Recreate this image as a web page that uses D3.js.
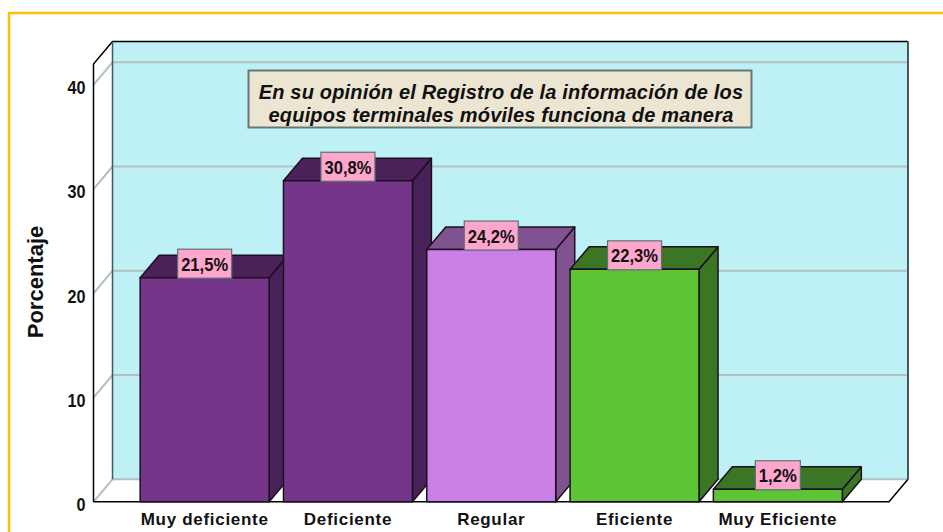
<!DOCTYPE html>
<html>
<head>
<meta charset="utf-8">
<script src="https://cdn.jsdelivr.net/npm/d3@7"></script>
<style>
  html, body { margin: 0; padding: 0; background: #fff; }
  svg { display: block; }
  text { font-family: "Liberation Sans", Arial, sans-serif; fill: #111; }
</style>
</head>
<body>
<svg id="chart" width="943" height="532"></svg>
<script>
const categories = ["Muy deficiente", "Deficiente", "Regular", "Eficiente", "Muy Eficiente"];
const percentages = [21.5, 30.8, 24.2, 22.3, 1.2];
const valueLabels = ["21,5%", "30,8%", "24,2%", "22,3%", "1,2%"];
const yTicks = [0, 10, 20, 30, 40];
const titleLines = ["En su opinión el Registro de la información de los", "equipos terminales móviles funciona de manera"];
const frontColors = ["#75368a", "#75368a", "#c97fe5", "#5dc435", "#5dc435"];
const topColors = ["#4a2259", "#4a2259", "#80528f", "#3a7623", "#3a7623"];
const sideColors = ["#472157", "#472157", "#80528f", "#3a7623", "#3a7623"];

const svg = d3.select("#chart");
const dx = 19, dy = -22.5;   // depth of the fake 3d
const left = 93.5, right = 889;
const yMax = 42;

const x = d3.scaleBand().domain(categories).range([133, 849.5]).paddingInner(0.1).paddingOuter(0.05);
const y = d3.scaleLinear().domain([0, yMax]).range([501.8, 64]);

// yellow frame round the picture, runs off the right and bottom edge
svg.append("path")
  .attr("d", "M9,532V13H943")
  .attr("fill", "none")
  .attr("stroke", "#ffc000")
  .attr("stroke-width", 2.5);

function poly(pts) { return pts.map(function(p) { return p.join(","); }).join(" "); }

// back wall
svg.append("rect")
  .attr("x", left + dx).attr("y", y(yMax) + dy)
  .attr("width", right - left).attr("height", y(0) - y(yMax))
  .attr("fill", "#bdf1f5");

// gridlines, back wall and left wall
const grid = svg.append("g").attr("stroke", "#b3bfc1").attr("stroke-width", 2).attr("fill", "none");
yTicks.forEach(function(t) {
  grid.append("polyline").attr("points", poly([
    [left, y(t)], [left + dx, y(t) + dy], [right + dx, y(t) + dy]
  ]));
});

// frame of the box
const frame = svg.append("g").attr("fill", "none").attr("stroke", "#000").attr("stroke-width", 1.5);
frame.append("polyline").attr("points", poly([
  [left, y(0)], [left, y(yMax)], [left + dx, y(yMax) + dy], [right + dx, y(yMax) + dy]
]));
frame.append("line")
  .attr("x1", left + dx).attr("x2", left + dx)
  .attr("y1", y(yMax) + dy).attr("y2", y(0) + dy)
  .attr("stroke", "#3f5a5f");
frame.append("line")
  .attr("x1", right + dx).attr("x2", right + dx)
  .attr("y1", y(yMax) + dy).attr("y2", y(0) + dy)
  .attr("stroke", "#4a5557").attr("stroke-width", 2);
frame.append("polyline").attr("points", poly([
  [left, y(0)], [right, y(0)], [right + dx, y(0) + dy]
]));

// bars
const bars = svg.append("g").selectAll("g").data(categories).join("g");
const edge = function(sel) { return sel.attr("stroke", "#1a1020").attr("stroke-width", 1.5).attr("stroke-linejoin", "round"); };

bars.append("polygon")
  .attr("points", function(d, i) {
    const x1 = x(d) + x.bandwidth(), t = y(percentages[i]);
    return poly([[x1, y(0)], [x1 + dx, y(0) + dy], [x1 + dx, t + dy], [x1, t]]);
  })
  .attr("fill", function(d, i) { return sideColors[i]; })
  .call(edge);

bars.append("polygon")
  .attr("points", function(d, i) {
    const x0 = x(d), x1 = x0 + x.bandwidth(), t = y(percentages[i]);
    return poly([[x0, t], [x0 + dx, t + dy], [x1 + dx, t + dy], [x1, t]]);
  })
  .attr("fill", function(d, i) { return topColors[i]; })
  .call(edge);

bars.append("rect")
  .attr("x", function(d) { return x(d); })
  .attr("y", function(d, i) { return y(percentages[i]); })
  .attr("width", x.bandwidth())
  .attr("height", function(d, i) { return y(0) - y(percentages[i]); })
  .attr("fill", function(d, i) { return frontColors[i]; })
  .call(edge);

// value labels
const labels = bars.append("g");
labels.append("rect")
  .attr("x", function(d, i) { return x(d) + x.bandwidth() / 2 - (i === 4 ? 22.5 : 27); })
  .attr("y", function(d, i) { return y(percentages[i]) - 28.5; })
  .attr("width", function(d, i) { return i === 4 ? 45 : 54; })
  .attr("height", 29)
  .attr("fill", "#ffa6cc")
  .attr("stroke", "#5f7072")
  .attr("stroke-width", 1.2);
// no narrow face installed, so squeeze the glyphs to the measured width
labels.append("text")
  .attr("x", function(d) { return x(d) + x.bandwidth() / 2; })
  .attr("y", function(d, i) { return y(percentages[i]) - 7; })
  .attr("text-anchor", "middle")
  .attr("font-size", 19)
  .attr("font-weight", "bold")
  .attr("textLength", function(d, i) { return i === 4 ? 38 : 47; })
  .attr("lengthAdjust", "spacingAndGlyphs")
  .text(function(d, i) { return valueLabels[i]; });

// axes
const yAxis = svg.append("g")
  .attr("transform", "translate(" + (left - 1) + ",0)")
  .call(d3.axisLeft(y).tickValues(yTicks).tickSize(0).tickPadding(7));
yAxis.select(".domain").remove();
yAxis.selectAll("text")
  .attr("y", 3)
  .attr("font-size", 18)
  .attr("font-weight", "bold")
  .attr("fill", "#111")
  .attr("font-family", "\"Liberation Sans\", Arial, sans-serif")
  .attr("textLength", function(d) { return String(d).length * 9; })
  .attr("lengthAdjust", "spacingAndGlyphs");

const xAxis = svg.append("g")
  .attr("transform", "translate(0," + y(0) + ")")
  .call(d3.axisBottom(x).tickSize(0).tickPadding(11));
xAxis.select(".domain").remove();
xAxis.selectAll("text")
  .attr("font-size", 17)
  .attr("font-weight", "bold")
  .attr("letter-spacing", 0.7)
  .attr("fill", "#111")
  .attr("font-family", "\"Liberation Sans\", Arial, sans-serif");

svg.append("text")
  .attr("transform", "translate(43,282) rotate(-90)")
  .attr("text-anchor", "middle")
  .attr("font-size", 22)
  .attr("font-weight", "bold")
  .text("Porcentaje");

// title box
const titleBox = svg.append("g");
titleBox.append("rect")
  .attr("x", 248.5).attr("y", 70.5)
  .attr("width", 503).attr("height", 57)
  .attr("fill", "#ece5d2")
  .attr("stroke", "#64787a")
  .attr("stroke-width", 2);
titleBox.selectAll("text").data(titleLines).join("text")
  .attr("x", 501)
  .attr("y", function(d, i) { return 99 + i * 23; })
  .attr("text-anchor", "middle")
  .attr("font-size", 20)
  .attr("letter-spacing", 0.18)
  .attr("font-weight", "bold")
  .attr("font-style", "italic")
  .text(function(d) { return d; });
</script>
</body>
</html>
